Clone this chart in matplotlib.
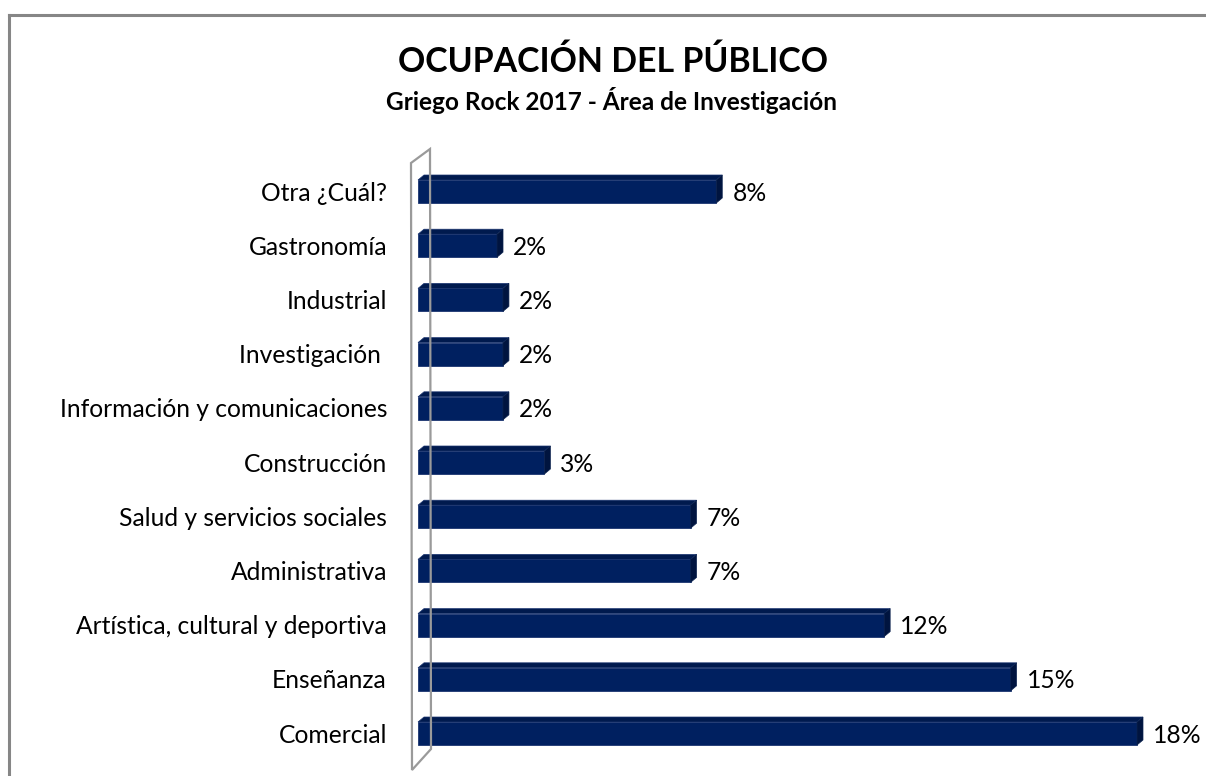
import matplotlib
matplotlib.use("Agg")
import matplotlib.pyplot as plt
from matplotlib.patches import Polygon
from matplotlib.lines import Line2D

categories = ["Comercial", "Enseñanza", "Artística, cultural y deportiva",
              "Administrativa", "Salud y servicios sociales", "Construcción",
              "Información y comunicaciones", "Investigación ", "Industrial",
              "Gastronomía", "Otra ¿Cuál?"]
values = [18.2, 15.0, 11.8, 6.9, 6.9, 3.2, 2.15, 2.15, 2.15, 2.0, 7.55]

title = "OCUPACIÓN DEL PÚBLICO"
subtitle = "Griego Rock 2017 - Área de Investigación"

W, H = 1206, 776
fig = plt.figure(figsize=(W / 100, H / 100), dpi=100)
FONT = ["Lato", "DejaVu Sans"]

# axes geometry in pixels
x0_px, x1_px = 418, 1137
xmax = 18.2
row_px = 54.2
y_bottom_center = 733.5
n = len(categories)
ax_bottom_px = y_bottom_center + 0.5 * row_px
ax_top_px = ax_bottom_px - n * row_px
ax = fig.add_axes([x0_px / W, 1 - ax_bottom_px / H, (x1_px - x0_px) / W, (ax_bottom_px - ax_top_px) / H])
ax.set_xlim(0, xmax)
ax.set_ylim(-0.5, n - 0.5)
ax.axis("off")

px_x = (x1_px - x0_px) / xmax
dx = 6 / px_x
dy = 5 / row_px
bh = 23 / row_px

front_c = "#002060"
top_c = "#001a4e"
side_c = "#00143f"

ax.barh(range(n), values, height=bh, color=front_c, edgecolor="#1b3570", linewidth=0.6, zorder=3, clip_on=False)
for i, v in enumerate(values):
    t = i + bh / 2
    b = i - bh / 2
    ax.add_patch(Polygon([(0, t), (v, t), (v + dx, t + dy), (dx, t + dy)], closed=True,
                         facecolor=top_c, edgecolor="#1b3570", linewidth=0.5, zorder=3, clip_on=False))
    ax.add_patch(Polygon([(v, b), (v, t), (v + dx, t + dy), (v + dx, b + dy)], closed=True,
                         facecolor=side_c, edgecolor="#0d2450", linewidth=0.5, zorder=3, clip_on=False))
    ax.text(v + 16 / px_x, i - 0.03, f"{int(v + 0.5)}%", ha="left", va="center",
            fontsize=17.7, family=FONT, color="#000000", clip_on=False)
    ax.text(-31 / px_x, i - 0.03, categories[i], ha="right", va="center",
            fontsize=17.7, family=FONT, color="#000000", clip_on=False)

# left wall outline
wall = [(411, 163), (430, 149), (431, 749), (412, 770)]
fig.add_artist(Polygon([(x / W, 1 - y / H) for x, y in wall], closed=True, fill=False,
                       edgecolor="#9a9a9a", linewidth=1.6, transform=fig.transFigure))

# chart border
fig.add_artist(Line2D([8.5 / W, 8.5 / W], [0, 1 - 14.5 / H], color="#868686", linewidth=2.2, transform=fig.transFigure))
fig.add_artist(Line2D([8.5 / W, 1], [1 - 14.5 / H, 1 - 14.5 / H], color="#868686", linewidth=2.2, transform=fig.transFigure))

fig.text(613 / W, 1 - 62 / H, title, ha="center", va="center", fontsize=24.4, fontweight="bold", family=FONT)
fig.text(612 / W, 1 - 101 / H, subtitle, ha="center", va="center", fontsize=17.6, fontweight="bold", family=FONT)

fig.savefig("out.png", dpi=100)
